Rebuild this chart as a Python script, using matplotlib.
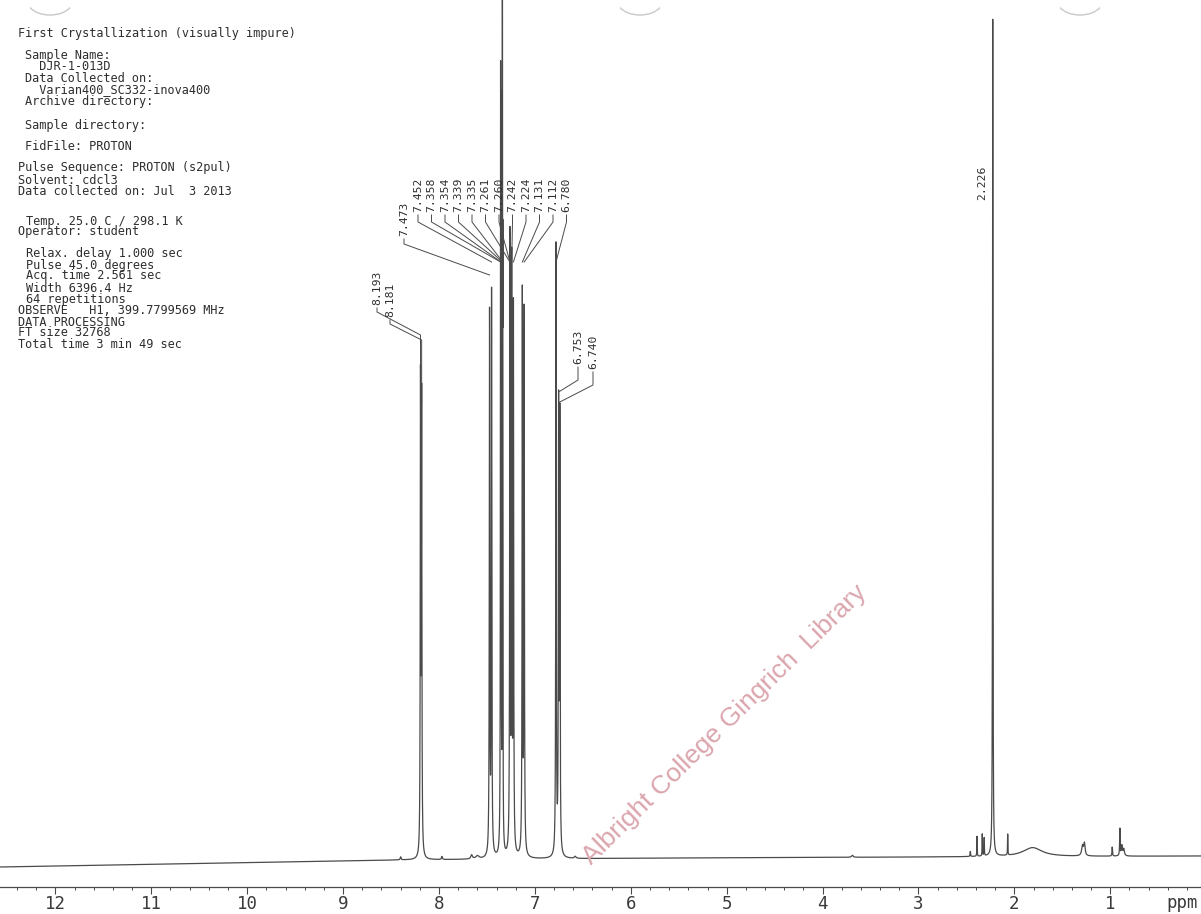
import numpy as np
import matplotlib
matplotlib.use("Agg")
import matplotlib.pyplot as plt
from matplotlib.patches import Arc

# --- data -------------------------------------------------------------
# main (labelled) lines: shift in ppm, height above baseline (px units), half width (ppm)
peak_ppm = [8.193, 8.181, 7.473, 7.452, 7.358, 7.354, 7.339, 7.335, 7.261, 7.260,
            7.242, 7.224, 7.131, 7.112, 6.780, 6.753, 6.740, 2.226]
peak_height = [470, 450, 540, 560, 660, 620, 1000, 500, 330, 300,
               580, 540, 560, 540, 610, 440, 430, 840]
peak_width = [0.003, 0.003, 0.003, 0.003, 0.002, 0.002, 0.0015, 0.0015, 0.003, 0.003,
              0.003, 0.003, 0.003, 0.003, 0.003, 0.003, 0.003, 0.0025]

# small unlabelled signals / impurities
minor_ppm = [8.40, 7.97, 7.66, 7.60, 6.58, 3.69, 2.46, 2.39, 2.335, 2.315, 2.07,
             1.81, 1.29, 1.27, 0.98, 0.90, 0.88, 0.86]
minor_height = [3, 3, 4, 3, 2, 2, 5, 20, 22, 18, 21, 9, 10, 12, 9, 27, 10, 7]
minor_width = [0.005, 0.005, 0.01, 0.02, 0.01, 0.01, 0.003, 0.002, 0.002, 0.002,
               0.002, 0.12, 0.01, 0.008, 0.003, 0.003, 0.006, 0.008]

# baseline drift along the trace
base_ppm = [12.58, 8.4, 5.6, 0.05]
base_level = [-9, -2, 0, 2]

major_ticks = list(range(1, 13))

header_lines = [
    "First Crystallization (visually impure)",
    "Sample Name:",
    "  DJR-1-013D",
    "Data Collected on:",
    "  Varian400_SC332-inova400",
    "Archive directory:",
    "Sample directory:",
    "FidFile: PROTON",
    "Pulse Sequence: PROTON (s2pul)",
    "Solvent: cdcl3",
    "Data collected on: Jul  3 2013",
    "Temp. 25.0 C / 298.1 K",
    "Operator: student",
    "Relax. delay 1.000 sec",
    "Pulse 45.0 degrees",
    "Acq. time 2.561 sec",
    "Width 6396.4 Hz",
    "64 repetitions",
    "OBSERVE   H1, 399.7799569 MHz",
    "DATA PROCESSING",
    "FT size 32768",
    "Total time 3 min 49 sec",
]

# --- layout helpers (pixel -> data) -------------------------------------
W, H = 1201, 914


def px_ppm(px):
    return 8.0 - (px - 439.0) / 95.9


def py_val(py):
    return 858.0 - py


fig = plt.figure(figsize=(W / 100, H / 100), dpi=100)
ax = fig.add_axes([0, 0, 1, 1])
ax.set_xlim(px_ppm(0), px_ppm(W))
ax.set_ylim(py_val(H), py_val(0))

ink = "#4a4a4a"
mono = "DejaVu Sans Mono"

# spectrum trace built from the peak table (lorentzian lines)
x = np.linspace(px_ppm(0), px_ppm(W), 40000)
y = np.interp(x, base_ppm[::-1], base_level[::-1])
for p, h, w in zip(peak_ppm + minor_ppm, peak_height + minor_height, peak_width + minor_width):
    y = y + h * w ** 2 / ((x - p) ** 2 + w ** 2)
ax.plot(x, y, color=ink, lw=0.9)

# bottom ppm scale
for s in ["top", "left", "right"]:
    ax.spines[s].set_visible(False)
ax.spines["bottom"].set_position(("data", py_val(887)))
ax.spines["bottom"].set_color(ink)
ax.spines["bottom"].set_linewidth(0.9)
ax.set_yticks([])
ax.set_xticks(major_ticks)
ax.set_xticklabels([str(t) for t in major_ticks])
ax.set_xticks(np.arange(0.2, 12.6, 0.2), minor=True)
ax.tick_params(axis="x", which="major", direction="out", length=5, width=0.8,
               color=ink, pad=1, labelsize=12.5, labelcolor="#3a3a3a")
ax.tick_params(axis="x", which="minor", direction="out", length=2.5, width=0.7, color=ink)
for lab in ax.get_xticklabels():
    lab.set_family(mono)
fig.text(1182 / W, 1 - 903 / H, "ppm", family=mono, fontsize=12.5, color="#3a3a3a",
         ha="center", va="center")

# header block
hx = [18, 25, 25, 25, 25, 25, 25, 25, 18, 18, 18, 26, 18, 26, 26, 26, 26, 26, 18, 18, 18, 18]
hy = [33, 55, 66.5, 78, 89.5, 101, 126, 147, 168, 180, 192, 221, 232, 253, 265, 276, 288,
      299, 310, 322, 333, 344]
for t, xx, yy in zip(header_lines, hx, hy):
    fig.text(xx / W, 1 - yy / H, t, family=mono, fontsize=8.6, color="#2e2e2e",
             ha="left", va="center")


# peak labels with leader lines
def peak_px(p):
    return 439.0 + (8.0 - p) * 95.9


def label(p, lx, bottom, k1, k2, top_end=None):
    ax.text(px_ppm(lx), py_val(bottom), f"{p:.3f}", rotation=90, family=mono,
            fontsize=8.2, color="#2e2e2e", ha="center", va="bottom")
    xs = [lx, lx, peak_px(p)]
    ys = [bottom + 3, k1, k2]
    if top_end is not None:
        xs.append(peak_px(p))
        ys.append(top_end)
    ax.plot([px_ppm(v) for v in xs], [py_val(v) for v in ys], color=ink, lw=0.7)


def top_of(i):
    # pixel row just above the drawn peak top
    return min(858 - peak_height[i] - 4, 858)


label(peak_ppm[0], 377, 305, 312, 335, top_of(0))
label(peak_ppm[1], 390, 317, 324, 340, top_of(1))
label(peak_ppm[2], 404, 236, 244, 275)
for i in range(3, 15):
    label(peak_ppm[i], 418 + 13.5 * (i - 3), 212, 222, 262)
label(peak_ppm[15], 578, 364, 380, 392)
label(peak_ppm[16], 593, 369, 385, 402)
ax.text(px_ppm(982), py_val(200), f"{peak_ppm[17]:.3f}", rotation=90, family=mono,
        fontsize=8.2, color="#2e2e2e", ha="center", va="bottom")

# faint punch-hole shadows along the top edge of the scan
for cx in [50, 640, 1080]:
    fig.add_artist(Arc((cx / W, 1 - 2 / H), 44 / W, 26 / H, theta1=200, theta2=340,
                       transform=fig.transFigure, color="#c8c8c8", lw=1.0))

# library watermark
ax.text(px_ppm(725), py_val(725), "Albright College Gingrich  Library", rotation=44.5,
        rotation_mode="anchor", family="Liberation Sans", fontsize=19, color="#dba5ad",
        ha="center", va="center")

fig.savefig("out.png", dpi=100)
